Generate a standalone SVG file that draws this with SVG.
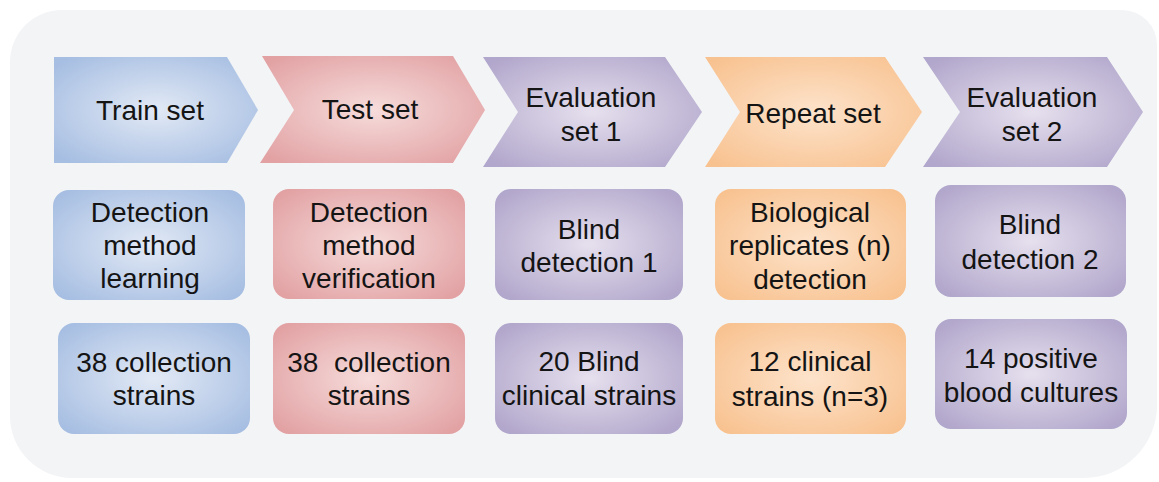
<svg xmlns="http://www.w3.org/2000/svg" width="1159" height="482" viewBox="0 0 1159 482">
<defs>
<radialGradient id="gBlue" cx="0.5" cy="0.5" r="0.65"><stop offset="0" stop-color="#e2e9f5"/><stop offset="1" stop-color="#a6bee2"/></radialGradient>
<radialGradient id="gPink" cx="0.5" cy="0.5" r="0.65"><stop offset="0" stop-color="#f6dcdb"/><stop offset="1" stop-color="#e2a1a3"/></radialGradient>
<radialGradient id="gPurple" cx="0.5" cy="0.5" r="0.65"><stop offset="0" stop-color="#e6e0ee"/><stop offset="1" stop-color="#b1a6cb"/></radialGradient>
<radialGradient id="gOrange" cx="0.5" cy="0.5" r="0.65"><stop offset="0" stop-color="#fde3cb"/><stop offset="1" stop-color="#f8c290"/></radialGradient>
<style>
text{font-family:"Liberation Sans",Arial,sans-serif;font-size:28px;fill:#141414;text-anchor:middle}
.blue{fill:url(#gBlue)}
.pink{fill:url(#gPink)}
.purple{fill:url(#gPurple)}
.orange{fill:url(#gOrange)}
</style>
</defs>
<rect width="1159" height="482" fill="#ffffff"/>
<path d="M62,10 H1122 A35,35 0 0 1 1157,45 V405 A73,73 0 0 1 1084,478 H72 A62,62 0 0 1 10,416 V62 A52,52 0 0 1 62,10 Z" fill="#f3f4f6"/>
<g id="connectors"/>
<g id="chevron-train">
<polygon class="blue" points="54,57 227,57 258,110 227,163 54,163"/>
<text x="150" y="120">Train set</text>
</g>
<g id="chevron-test">
<polygon class="pink" points="262,56 453,56 485,110 453,163 260,163 294,110"/>
<text x="370" y="119">Test set</text>
</g>
<g id="chevron-eval1">
<polygon class="purple" points="483,57 665,57 702,112 665,167 483,167 518,112"/>
<text x="591" y="107">Evaluation</text>
<text x="591" y="141">set 1</text>
</g>
<g id="chevron-repeat">
<polygon class="orange" points="705,57 885,57 922,112 885,167 705,167 740,112"/>
<text x="813" y="123">Repeat set</text>
</g>
<g id="chevron-eval2">
<polygon class="purple" points="923,57 1107,57 1143,112 1107,167 923,167 960,112"/>
<text x="1032" y="107">Evaluation</text>
<text x="1032" y="141">set 2</text>
</g>
<g id="box-learning">
<rect class="blue" x="53" y="190" width="192" height="110" rx="16"/>
<text x="150" y="222">Detection</text>
<text x="150" y="255">method</text>
<text x="150" y="288">learning</text>
</g>
<g id="box-verification">
<rect class="pink" x="273" y="189" width="192" height="110" rx="16"/>
<text x="369" y="222">Detection</text>
<text x="369" y="255">method</text>
<text x="369" y="288">verification</text>
</g>
<g id="box-blind1">
<rect class="purple" x="495" y="189" width="188" height="111" rx="16"/>
<text x="589" y="239">Blind</text>
<text x="589" y="272">detection 1</text>
</g>
<g id="box-replicates">
<rect class="orange" x="715" y="189" width="191" height="111" rx="16"/>
<text x="810" y="222">Biological</text>
<text x="810" y="255">replicates (n)</text>
<text x="810" y="289">detection</text>
</g>
<g id="box-blind2">
<rect class="purple" x="935" y="185" width="191" height="112" rx="16"/>
<text x="1030" y="234">Blind</text>
<text x="1030" y="269">detection 2</text>
</g>
<g id="box-collection1">
<rect class="blue" x="58" y="323" width="192" height="111" rx="16"/>
<text x="154" y="372">38 collection</text>
<text x="154" y="405">strains</text>
</g>
<g id="box-collection2">
<rect class="pink" x="273" y="323" width="192" height="111" rx="16"/>
<text x="369" y="372" xml:space="preserve">38  collection</text>
<text x="369" y="405">strains</text>
</g>
<g id="box-blindclinical">
<rect class="purple" x="495" y="323" width="188" height="111" rx="16"/>
<text x="589" y="371">20 Blind</text>
<text x="589" y="405">clinical strains</text>
</g>
<g id="box-clinical">
<rect class="orange" x="715" y="323" width="191" height="111" rx="16"/>
<text x="810" y="371">12 clinical</text>
<text x="810" y="406">strains (n=3)</text>
</g>
<g id="box-blood">
<rect class="purple" x="935" y="319" width="192" height="110" rx="16"/>
<text x="1031" y="368">14 positive</text>
<text x="1031" y="402">blood cultures</text>
</g>
</svg>
